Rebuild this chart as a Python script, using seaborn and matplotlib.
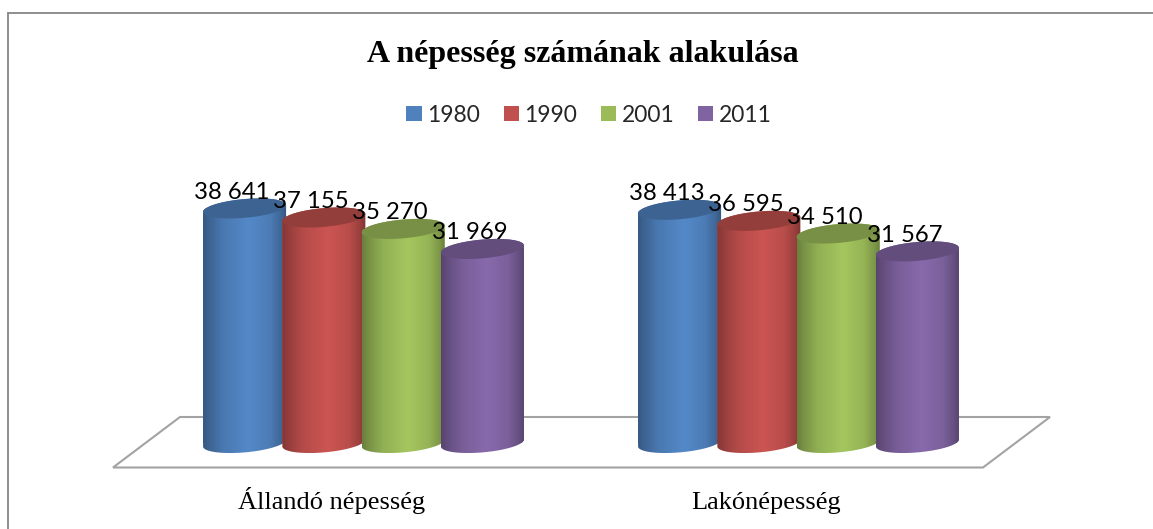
import numpy as np
import pandas as pd
import seaborn as sns
import matplotlib
matplotlib.use("Agg")
import matplotlib.pyplot as plt
from matplotlib.colors import to_rgb, LinearSegmentedColormap
from matplotlib.lines import Line2D
from matplotlib.path import Path
from matplotlib.patches import Polygon
from matplotlib.transforms import IdentityTransform, ScaledTranslation

title = "A népesség számának alakulása"
categories = ["Állandó népesség", "Lakónépesség"]
years = ["1980", "1990", "2001", "2011"]
values_1980 = [38641, 38413]
values_1990 = [37155, 36595]
values_2001 = [35270, 34510]
values_2011 = [31969, 31567]
colors = ["#4f81bd", "#c0504d", "#9bbb59", "#8064a2"]

W, H = 1153, 529
BASE_PX, PX_PER_UNIT = 443, 0.00607
AX_BOTTOM_PX = 480
G0, GROUP_STEP = 363.5, 435.0

df = pd.DataFrame({
    "cat": categories * 4,
    "year": sum([[y] * 2 for y in years], []),
    "value": values_1980 + values_1990 + values_2001 + values_2011,
})

sns.set_theme(style="white")
LABEL_FONT = ["Lato", "DejaVu Sans"]
SERIF = ["Liberation Serif", "DejaVu Serif"]

fig = plt.figure(figsize=(W / 100, H / 100), dpi=100, facecolor="white")
ax = fig.add_axes([0, 1 - AX_BOTTOM_PX / H, 1, AX_BOTTOM_PX / H])
sns.barplot(data=df, x="cat", y="value", hue="year", hue_order=years, palette=colors,
            width=0.729, gap=-0.047, saturation=1, linewidth=0, ax=ax, legend=True)
ax.set_xlim(-G0 / GROUP_STEP, (W - G0) / GROUP_STEP)
ax.set_ylim((BASE_PX - AX_BOTTOM_PX) / PX_PER_UNIT, BASE_PX / PX_PER_UNIT)
ax.set_xlabel("")
ax.set_ylabel("")
ax.set_yticks([])
ax.patch.set_visible(False)
sns.despine(ax=ax, left=True, bottom=True)
ax.tick_params(axis="x", length=0, pad=21)
for t in ax.get_xticklabels():
    t.set_fontfamily(SERIF)
    t.set_fontsize(19)
    t.set_color("black")
    t.set_verticalalignment("baseline")
    t.set_transform(t.get_transform() + ScaledTranslation(-32 / 100, 0, fig.dpi_scale_trans))

# floor plane
floor_px = np.array([[113, 467.5], [180, 417], [1050, 417], [983, 467.5]], float)
floor_px[:, 1] = H - floor_px[:, 1]
ax.add_patch(Polygon(floor_px, closed=True, fc="white", ec="#a3a3a3", lw=1.5,
                     transform=IdentityTransform(), zorder=1))

stops = [0, .08, .25, .55, .8, .93, 1]
shade = [.68, .78, .94, 1.06, .96, .80, .66]
SHEAR, B = 0.084, 9.4
t_low = np.linspace(np.pi, 2 * np.pi, 60)
t_up = np.linspace(0, np.pi, 60)

fig.canvas.draw()
for i, (container, col) in enumerate(zip(ax.containers, colors)):
    rgb = np.array(to_rgb(col))
    cmap = LinearSegmentedColormap.from_list(
        f"c{i}", [(s, tuple(np.clip(rgb * f, 0, 1))) for s, f in zip(stops, shade)])
    for bar in container.patches:
        z = 3 + i
        x0, w, h = bar.get_x(), bar.get_width(), bar.get_height()
        (px0, py0), (px1, py1) = ax.transData.transform([(x0, 0), (x0 + w, h)])
        cx, a = (px0 + px1) / 2, (px1 - px0) / 2

        def ell(cy, ts):
            xs = a * np.cos(ts)
            return np.c_[cx + xs, cy + B * np.sin(ts) + SHEAR * xs]

        outline = np.vstack([ell(py0, t_low), ell(py1, t_up)])
        clip = Path(np.vstack([outline, outline[0]]), closed=True)
        bar.set_zorder(z)
        bar.set_clip_path(clip, IdentityTransform())
        im = ax.imshow(np.linspace(0, 1, 256)[None, :], cmap=cmap, vmin=0, vmax=1, aspect="auto",
                       extent=(x0, x0 + w, -3000, h + 3000), origin="lower",
                       interpolation="bilinear", zorder=z)
        im.set_clip_path(clip, IdentityTransform())
        cap = ell(py1, np.linspace(0, 2 * np.pi, 120))
        ax.add_patch(Polygon(cap, closed=True, fc=tuple(rgb * 0.77), ec="none",
                             transform=IdentityTransform(), zorder=z + 0.1))
        txt = f"{int(h):,}".replace(",", " ")
        ax.annotate(txt, (x0 + w / 2, h), xytext=(-13 * .72, 16 * .72), textcoords="offset points",
                    ha="center", va="center", fontsize=17.2, family=LABEL_FONT,
                    color="black", zorder=20)

ax.set_xlim(-G0 / GROUP_STEP, (W - G0) / GROUP_STEP)
ax.set_ylim((BASE_PX - AX_BOTTOM_PX) / PX_PER_UNIT, BASE_PX / PX_PER_UNIT)

handles, labels = ax.get_legend_handles_labels()
ax.legend(handles, labels, ncol=4, loc="center", frameon=False,
          bbox_to_anchor=(589 / W, 1 - 115 / H), bbox_transform=fig.transFigure,
          prop={"family": LABEL_FONT, "size": 16.4}, borderpad=0, borderaxespad=0,
          handlelength=.67, handleheight=.67, handletextpad=.24, columnspacing=1.04)

fig.text(582.5 / W, 1 - 62 / H, title, ha="center", va="baseline",
         family=SERIF, fontweight="bold", fontsize=23, color="black")

# chart frame (top and left edges only are visible)
for xs, ys in [((7.5, W), (12.5, 12.5)), ((7.5, 7.5), (12.5, H))]:
    fig.add_artist(Line2D([x / W for x in xs], [1 - y / H for y in ys],
                          color="#868686", lw=1.3, transform=fig.transFigure))

fig.savefig("out.png", dpi=100, facecolor="white")
